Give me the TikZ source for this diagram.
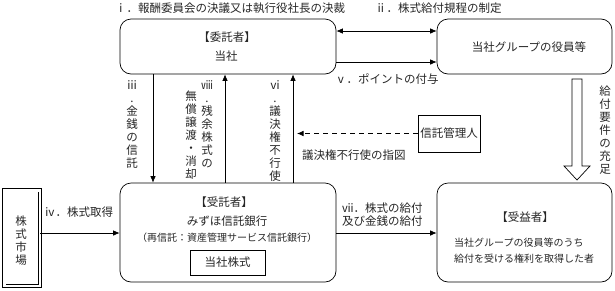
\documentclass[tikz,border=0pt]{standalone}
\usepackage{fontspec}
\setmainfont{Noto Sans CJK JP}
\usetikzlibrary{arrows.meta}
\begin{document}
\begin{tikzpicture}[x=1pt,y=-1pt,
  every node/.style={inner sep=0pt, font=\fontsize{11.5}{13}\selectfont, text=black!85},
  rbox/.style={draw, line width=0.7pt, rounded corners=11pt},
  sbox/.style={draw, line width=0.7pt},
  arr/.style={line width=0.7pt, -{Latex[length=6.5pt,width=5.5pt]}},
  biarr/.style={line width=0.7pt, {Latex[length=6.5pt,width=5.5pt]}-{Latex[length=6.5pt,width=5.5pt]}},
  vtext/.style={align=center, anchor=north},
  lbl/.style={anchor=west},
  small/.style={font=\fontsize{10}{12}\selectfont},
]
\useasboundingbox (0,0) rectangle (615,290);

% boxes
\node[rbox, minimum width=216pt, minimum height=55pt] (trustor) at (228,46.5) {};
\node[rbox, minimum width=175pt, minimum height=55pt] (officers) at (524.5,46.5) {};
\node[rbox, minimum width=216pt, minimum height=99pt] (trustee) at (228,232.5) {};
\node[rbox, minimum width=175pt, minimum height=99pt] (benef) at (524.5,232.5) {};
\node[sbox, minimum width=62pt, minimum height=37pt] (admin) at (449,133.5) {};
\node[sbox, minimum width=75pt, minimum height=25pt] (shares) at (227.5,262.5) {};
\node[draw, double, double distance=2.6pt, line width=0.8pt, minimum width=35.6pt, minimum height=95.6pt] (market) at (22,238) {};

% box texts
\node (t1) at (227,37) {【委託者】};
\node (t2) at (226,56) {当社};
\node (o1) at (529,47) {当社グループの役員等};
\node (a1) at (admin) {信託管理人};
\node (s1) at (shares) {当社株式};
\node (r1) at (224,202) {【受託者】};
\node (r2) at (227,221) {みずほ信託銀行};
\node[small] (r3) at (227,238) {（再信託：資産管理サービス信託銀行）};
\node (b1) at (525,217) {【受益者】};
\node[small, anchor=west] (b2) at (454,243) {当社グループの役員等のうち};
\node[small, anchor=west] (b3) at (454,259) {給付を受ける権利を取得した者};
\node[vtext] (m1) at (21,216) {株\\式\\市\\場};

% connectors
\coordinate (ya) at (0,31);
\coordinate (yb) at (0,62);
\draw[biarr] (trustor.east |- ya) -- (officers.west |- ya);
\draw[arr] (trustor.east |- yb) -- (officers.west |- yb);

\coordinate (x3) at (153,0);
\coordinate (x8) at (225,0);
\coordinate (x6) at (293,0);
\draw[arr] (trustor.south -| x3) -- (trustee.north -| x3);
\draw[arr] (trustee.north -| x8) -- (trustor.south -| x8);
\draw[arr] (trustee.north -| x6) -- (trustor.south -| x6);

\coordinate (dashend) at (297,133.5);
\draw[arr, dash pattern=on 5pt off 4pt] (admin.west) -- (dashend);

\coordinate (yc) at (0,233);
\draw[arr] (market.east |- yc) -- (trustee.west |- yc);
\draw[arr] (trustee.east |- yc) -- (benef.west |- yc);

% hollow arrow
\draw[line width=0.7pt, fill=white] (572,79) -- (582,79) -- (582,166) -- (590,166) -- (577,180) -- (564,166) -- (572,166) -- cycle;

% labels
\node[lbl] (l1) at (115,8) {ⅰ．報酬委員会の決議又は執行役社長の決裁};
\node[lbl] (l2) at (375,8) {ⅱ．株式給付規程の制定};
\node[lbl] (l5) at (335,79) {ⅴ．ポイントの付与};
\node[lbl] (l9) at (302,155) {議決権不行使の指図};
\node[lbl] (l4) at (44,212) {ⅳ．株式取得};
\node[anchor=north west, align=left] (l7) at (342,203) {ⅶ．株式の給付\\及び金銭の給付};
\node[vtext] (l3) at (132,80) {ⅲ\\.\\金\\銭\\の\\信\\託};
\node[vtext] (l8a) at (207,80) {ⅷ\\.\\残\\余\\株\\式\\の};
\node[vtext] (l8b) at (191,91) {無\\償\\譲\\渡\\・\\消\\却};
\node[vtext] (l6) at (275,80) {ⅵ\\.\\議\\決\\権\\不\\行\\使};
\node[vtext] (lr) at (605,86) {給\\付\\要\\件\\の\\充\\足};
\end{tikzpicture}
\end{document}
